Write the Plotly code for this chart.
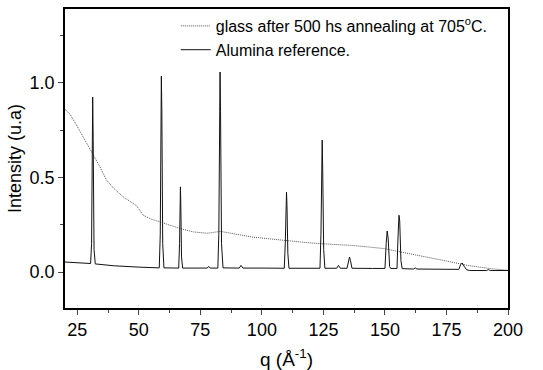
import plotly.graph_objects as go

# Alumina reference (solid)
alumina_q = [20, 25, 30.4, 30.8, 31.1, 31.25, 31.45, 31.8, 32.3, 40, 50,
             58.3, 58.7, 59.0, 59.15, 59.35, 59.7, 60.2,
             66.2, 66.55, 66.8, 66.9, 67.05, 67.35, 67.8,
             77.8, 78.4, 79.0,
             82.1, 82.5, 82.85, 83.0, 83.2, 83.6, 84.2,
             90.8, 91.5, 92.3, 100,
             109.1, 109.5, 109.85, 110.0, 110.2, 110.55, 111.0,
             123.6, 124.0, 124.35, 124.5, 124.7, 125.1, 125.6,
             130.4, 131.1, 131.9,
             134.6, 135.2, 135.6, 136.0, 136.6, 145,
             150.0, 150.5, 150.9, 151.3, 151.9, 152.3,
             154.9, 155.3, 155.7, 156.0, 156.5, 157.0,
             161.6, 162.3, 163.0, 172,
             180.0, 180.8, 181.4, 182.2, 183.2, 184.5,
             191.3, 192.0, 192.8, 200]
alumina_i = [0.053, 0.049, 0.045, 0.15, 0.80, 0.925, 0.70, 0.12, 0.043, 0.033, 0.026,
             0.022, 0.20, 0.90, 1.035, 0.85, 0.15, 0.022,
             0.021, 0.15, 0.40, 0.45, 0.36, 0.08, 0.021,
             0.021, 0.030, 0.021,
             0.021, 0.20, 0.95, 1.057, 0.85, 0.15, 0.022,
             0.021, 0.035, 0.021, 0.021,
             0.020, 0.15, 0.39, 0.423, 0.35, 0.10, 0.020,
             0.020, 0.20, 0.65, 0.697, 0.55, 0.12, 0.020,
             0.020, 0.035, 0.020,
             0.020, 0.060, 0.079, 0.060, 0.020, 0.019,
             0.019, 0.15, 0.217, 0.18, 0.03, 0.019,
             0.019, 0.18, 0.30, 0.27, 0.06, 0.018,
             0.016, 0.022, 0.016, 0.015,
             0.014, 0.040, 0.048, 0.030, 0.012, 0.008,
             0.008, 0.013, 0.008, 0.008]

# Glass after annealing (dotted)
glass_q = [20, 22, 25.4, 28, 31.2, 34.2, 36.9, 40, 43.7, 47, 49.1, 51.8, 55,
           58.6, 62, 66.8, 72.2, 78, 83.1, 87, 91.2, 96, 102, 110.3, 117,
           123.8, 130, 136, 143, 149.6, 156.4, 163, 170, 177, 183.6, 188, 193, 200]
glass_i = [0.86, 0.835, 0.76, 0.70, 0.63, 0.556, 0.485, 0.44, 0.397, 0.37, 0.35,
           0.30, 0.28, 0.265, 0.25, 0.23, 0.212, 0.205, 0.215, 0.205, 0.194,
           0.185, 0.177, 0.164, 0.157, 0.15, 0.147, 0.141, 0.133, 0.124, 0.106,
           0.09, 0.071, 0.053, 0.035, 0.026, 0.018, 0.009]

x_ticks = [25, 50, 75, 100, 125, 150, 175, 200]
y_ticks = [0.0, 0.5, 1.0]
y_tick_labels = ["0.0", "0.5", "1.0"]

fig = go.Figure()
fig.add_trace(go.Scatter(x=glass_q, y=glass_i, mode="lines",
                         name="glass after 500 hs annealing at 705<sup>o</sup>C.",
                         line=dict(color="#555555", width=1, dash="1px,1px")))
fig.add_trace(go.Scatter(x=alumina_q, y=alumina_i, mode="lines",
                         name="Alumina reference.",
                         line=dict(color="#111111", width=1)))

font_family = "Liberation Sans, Arial, sans-serif"
fig.update_layout(
    width=543, height=370,
    margin=dict(l=65, r=35, t=9, b=62),
    paper_bgcolor="white", plot_bgcolor="white",
    font=dict(family=font_family, color="black"),
    showlegend=True,
    legend=dict(x=0.25, y=1.0, xanchor="left", yanchor="top",
                bgcolor="rgba(0,0,0,0)", font=dict(size=16, family=font_family),
                tracegroupgap=0, itemwidth=30),
)
fig.update_xaxes(range=[20, 200], tickvals=x_ticks, ticks="outside", ticklen=5,
                 tickwidth=1, tickfont=dict(size=18, color="black"), automargin=False,
                 showline=True, linecolor="black", linewidth=1.5, mirror=True,
                 showgrid=False, zeroline=False,
                 minor=dict(ticks="outside", ticklen=3, dtick=12.5, tick0=25, showgrid=False),
                 title=dict(text="q (Å<sup>-1</sup>)", font=dict(size=19), standoff=19))
fig.update_yaxes(range=[-0.19, 1.39], tickvals=y_ticks, ticktext=y_tick_labels,
                 ticks="outside", ticklen=5, tickwidth=1, tickfont=dict(size=18, color="black"),
                 showline=True, linecolor="black", linewidth=1.5, mirror=True, automargin=False,
                 showgrid=False, zeroline=False,
                 minor=dict(ticks="outside", ticklen=3, dtick=0.25, tick0=0, showgrid=False),
                 title=dict(text="Intensity (u.a)", font=dict(size=18), standoff=3))

fig.write_html("out.html")
